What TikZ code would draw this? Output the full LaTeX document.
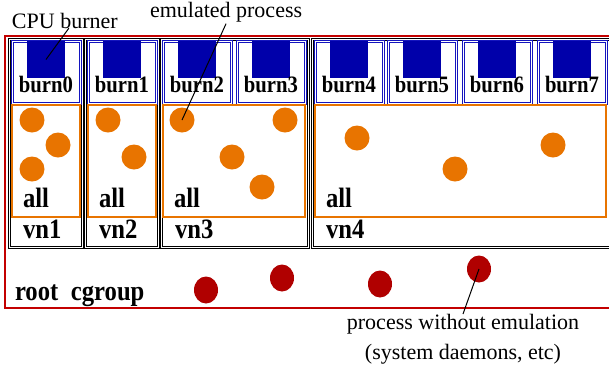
\documentclass[tikz,border=0pt]{standalone}
\usepackage{fontspec}
\setmainfont{Liberation Serif}[BoldFeatures={FakeStretch=0.88}]
\usepackage{xcolor}
\usetikzlibrary{positioning, shapes.geometric}

\definecolor{burnblue}{RGB}{0,0,170}
\definecolor{boxblue}{RGB}{20,20,190}
\definecolor{procorange}{RGB}{232,116,0}
\definecolor{rootred}{RGB}{195,0,0}
\definecolor{procred}{RGB}{176,0,0}

\begin{document}
\begin{tikzpicture}[x=1pt, y=-1pt, every node/.style={inner sep=0pt, outer sep=0pt}]
% Define styles for boxes, processes and labels
\tikzstyle{rootbox} = [draw=rootred, line width=1.8pt, rectangle, anchor=north west]
\tikzstyle{vnbox} = [draw=black, line width=1.1pt, double=white, double distance=0.8pt, rectangle, anchor=north west]
\tikzstyle{burnbox} = [draw=boxblue, line width=1.1pt, double=white, double distance=0.8pt, rectangle, anchor=north west, minimum width=68, minimum height=62]
\tikzstyle{burnsq} = [fill=burnblue, rectangle, anchor=north, minimum width=38, minimum height=37]
\tikzstyle{allbox} = [draw=procorange, line width=1.8pt, rectangle, anchor=north west, minimum height=112]
\tikzstyle{emu} = [fill=procorange, circle, minimum size=25]
\tikzstyle{noemu} = [fill=procred, ellipse, minimum width=24, minimum height=27]
\tikzstyle{burnlbl} = [font=\fontsize{23.5}{26}\selectfont\bfseries, anchor=base]
\tikzstyle{biglbl} = [font=\fontsize{28}{30}\selectfont\bfseries, anchor=base west]
\tikzstyle{note} = [font=\fontsize{22}{30}\selectfont, align=center]

\clip (0,0) rectangle (609,373);
\useasboundingbox (0,0) rectangle (609,373);

% Root cgroup and vn boxes
\node [rootbox, minimum width=660, minimum height=272] (root) at (5,36) {};
\node [vnbox, minimum width=73, minimum height=208] (vn1) at (9,39) {};
\node [vnbox, minimum width=73, minimum height=208] (vn2) at (85,39) {};
\node [vnbox, minimum width=147, minimum height=208] (vn3) at (161,39) {};
\node [vnbox, minimum width=340, minimum height=208] (vn4) at (312,39) {};

% CPU burners
\node [burnbox] (b0) at (12,41) {};
\node [burnbox] (b1) at (88,41) {};
\node [burnbox] (b2) at (163,41) {};
\node [burnbox] (b3) at (237,41) {};
\node [burnbox] (b4) at (315,41) {};
\node [burnbox] (b5) at (388,41) {};
\node [burnbox] (b6) at (463,41) {};
\node [burnbox] (b7) at (538,41) {};
\node [burnsq] (sq0) at (b0.north) {};
\node [burnsq] (sq1) at (b1.north) {};
\node [burnsq] (sq2) at (b2.north) {};
\node [burnsq] (sq3) at (b3.north) {};
\node [burnsq] (sq4) at (b4.north) {};
\node [burnsq] (sq5) at (b5.north) {};
\node [burnsq] (sq6) at (b6.north) {};
\node [burnsq] (sq7) at (b7.north) {};
\node [burnlbl] (l0) at ([yshift=11pt]b0.south) {burn0};
\node [burnlbl] (l1) at ([yshift=11pt]b1.south) {burn1};
\node [burnlbl] (l2) at ([yshift=11pt]b2.south) {burn2};
\node [burnlbl] (l3) at ([yshift=11pt]b3.south) {burn3};
\node [burnlbl] (l4) at ([yshift=11pt]b4.south) {burn4};
\node [burnlbl] (l5) at ([yshift=11pt]b5.south) {burn5};
\node [burnlbl] (l6) at ([yshift=11pt]b6.south) {burn6};
\node [burnlbl] (l7) at ([yshift=11pt]b7.south) {burn7};

% "all" cgroups
\node [allbox, minimum width=68] (all1) at (12,105) {};
\node [allbox, minimum width=68] (all2) at (88,105) {};
\node [allbox, minimum width=142] (all3) at (163,105) {};
\node [allbox, minimum width=291] (all4) at (315,105) {};
\node [biglbl] (a1) at ([xshift=11pt,yshift=10pt]all1.south west) {all};
\node [biglbl] (a2) at ([xshift=11pt,yshift=10pt]all2.south west) {all};
\node [biglbl] (a3) at ([xshift=11pt,yshift=10pt]all3.south west) {all};
\node [biglbl] (a4) at ([xshift=11pt,yshift=10pt]all4.south west) {all};
\node [biglbl] (n1) at ([xshift=14pt,yshift=9pt]vn1.south west) {vn1};
\node [biglbl] (n2) at ([xshift=14pt,yshift=9pt]vn2.south west) {vn2};
\node [biglbl] (n3) at ([xshift=14pt,yshift=9pt]vn3.south west) {vn3};
\node [biglbl] (n4) at ([xshift=14pt,yshift=9pt]vn4.south west) {vn4};
\node [biglbl] (r) at ([xshift=10pt,yshift=8pt]root.south west) {root\hspace{0.45em}cgroup};

% Emulated processes
\node [emu] (p1a) at (32,120) {};
\node [emu] (p1b) at (58,145) {};
\node [emu] (p1c) at (32,169) {};
\node [emu] (p2a) at (108,120) {};
\node [emu] (p2b) at (134,157) {};
\node [emu] (p3a) at (182,120) {};
\node [emu] (p3b) at (285,120) {};
\node [emu] (p3c) at (232,157) {};
\node [emu] (p3d) at (262,187) {};
\node [emu] (p4a) at (357,138) {};
\node [emu] (p4b) at (455,169) {};
\node [emu] (p4c) at (553,145) {};

% Processes without emulation
\node [noemu] (q1) at (206,290) {};
\node [noemu] (q2) at (282,278) {};
\node [noemu] (q3) at (380,284) {};
\node [noemu] (q4) at (479,269) {};

% Annotations
\node [note, anchor=base west] (cpu) at (12,28) {CPU burner};
\node [note, anchor=base west] (emul) at (150,17) {emulated process};
\node [note, anchor=north] (sys) at (463,314) {process without emulation\\(system daemons, etc)};
\draw [line width=1pt] ([xshift=4pt]cpu.south) -- (sq0.center);
\draw [line width=1pt] ([yshift=-2pt]emul.south) -- (p3a.center);
\draw [line width=1pt] (sys.north) -- (q4.center);
\end{tikzpicture}
\end{document}
